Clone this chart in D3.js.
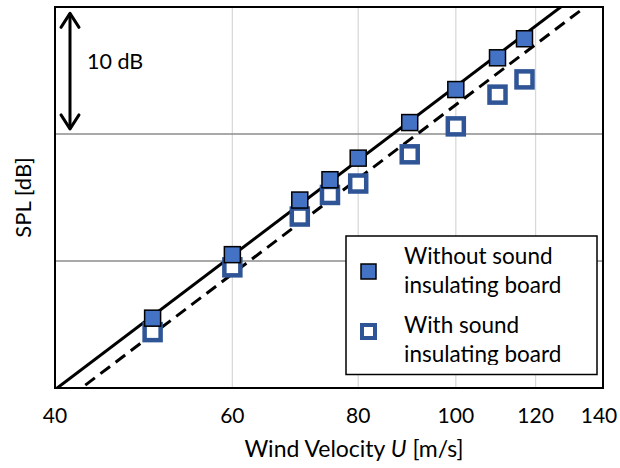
<!DOCTYPE html>
<html>
<head>
<meta charset="utf-8">
<script src="https://cdn.jsdelivr.net/npm/d3@7"></script>
<style>
  body { margin: 0; background: #fff; }
  text { font-family: Lato, "Open Sans", sans-serif; fill: #000; }
</style>
</head>
<body>
<div id="chart"></div>
<script>
// wind velocity [m/s] and relative SPL [dB]
var velocities = [50, 60, 70, 75, 80, 90, 100, 110, 117];
var splWithout = [5.5, 10.5, 14.8, 16.4, 18.1, 20.9, 23.5, 26.0, 27.5];
var splWith = [4.4, 9.5, 13.5, 15.2, 16.1, 18.4, 20.6, 23.1, 24.3];
var xTicks = [40, 60, 80, 100, 120, 140];
var yGrid = [10, 20];
// fitted lines: SPL = slope * log10(U / ref)
var fitWithout = { slope: 60, ref: 40.2 };
var fitWith = { slope: 60, ref: 42.5 };
var legendLabels = [["Without sound", "insulating board"], ["With sound", "insulating board"]];

var width = 620, height = 468;
var margin = { top: 7, left: 55, right: 17, bottom: 80 };

var svg = d3.select("#chart").append("svg")
    .attr("width", width)
    .attr("height", height);

var x = d3.scaleLog()
    .domain([40, 140])
    .range([margin.left, width - margin.right]);

var y = d3.scaleLinear()
    .domain([0, 30])
    .range([height - margin.bottom, margin.top]);

svg.append("defs").append("clipPath")
    .attr("id", "plotClip")
    .append("rect")
    .attr("x", x.range()[0])
    .attr("y", y.range()[1])
    .attr("width", x.range()[1] - x.range()[0])
    .attr("height", y.range()[0] - y.range()[1]);

// vertical grid
svg.append("g").selectAll("line")
    .data(xTicks.slice(1, -1))
    .enter().append("line")
    .attr("x1", d => x(d)).attr("x2", d => x(d))
    .attr("y1", y(0)).attr("y2", y(30))
    .attr("stroke", "#d9d9d9")
    .attr("stroke-width", 1.3);

// horizontal grid
svg.append("g").selectAll("line")
    .data(yGrid)
    .enter().append("line")
    .attr("x1", x(40)).attr("x2", x(140))
    .attr("y1", d => y(d)).attr("y2", d => y(d))
    .attr("stroke", "#8c8c8c")
    .attr("stroke-width", 1.5);

// fit lines
var line = d3.line().x(d => x(d[0])).y(d => y(d[1]));
function fitPoints(f) {
    return x.domain().map(u => [u, f.slope * Math.log10(u / f.ref)]);
}
var lines = svg.append("g").attr("clip-path", "url(#plotClip)");
lines.append("path")
    .attr("d", line(fitPoints(fitWithout)))
    .attr("fill", "none")
    .attr("stroke", "#000")
    .attr("stroke-width", 3);
lines.append("path")
    .attr("d", line(fitPoints(fitWith)))
    .attr("fill", "none")
    .attr("stroke", "#000")
    .attr("stroke-width", 3)
    .attr("stroke-dasharray", "12,7");

// markers
var openSize = 16, fillSize = 16;
svg.append("g").selectAll("rect")
    .data(velocities)
    .enter().append("rect")
    .attr("x", (d, i) => x(d) - openSize / 2)
    .attr("y", (d, i) => y(splWith[i]) - openSize / 2)
    .attr("width", openSize).attr("height", openSize)
    .attr("fill", "#fff")
    .attr("stroke", "#2f5597")
    .attr("stroke-width", 4.5);

svg.append("g").selectAll("rect")
    .data(velocities)
    .enter().append("rect")
    .attr("x", (d, i) => x(d) - fillSize / 2)
    .attr("y", (d, i) => y(splWithout[i]) - fillSize / 2)
    .attr("width", fillSize).attr("height", fillSize)
    .attr("fill", "#4472c4")
    .attr("stroke", "#000")
    .attr("stroke-width", 1.5);

// frame
svg.append("rect")
    .attr("x", x(40)).attr("y", y(30))
    .attr("width", x(140) - x(40))
    .attr("height", y(0) - y(30))
    .attr("fill", "none")
    .attr("stroke", "#000")
    .attr("stroke-width", 2);

// x tick labels (kept inside the picture at the right edge)
svg.append("g").selectAll("text")
    .data(xTicks)
    .enter().append("text")
    .attr("x", d => Math.min(x(d), width - 21))
    .attr("y", 423)
    .attr("text-anchor", "middle")
    .style("font-size", "21px")
    .text(d => d);

// axis titles
var xt = svg.append("text")
    .attr("x", 354)
    .attr("y", 457)
    .attr("text-anchor", "middle")
    .style("font-size", "23px");
xt.append("tspan").text("Wind Velocity ");
xt.append("tspan").style("font-style", "italic").text("U");
xt.append("tspan").text(" [m/s]");

svg.append("text")
    .attr("transform", "translate(31," + y(15) + ") rotate(-90)")
    .attr("text-anchor", "middle")
    .style("font-size", "22px")
    .text("SPL [dB]");

// 10 dB scale arrow
var ax = 70, aTop = y(29.5), aBot = y(20.4);
var arrow = svg.append("g")
    .attr("fill", "none")
    .attr("stroke", "#000")
    .attr("stroke-width", 3)
    .attr("stroke-linecap", "round")
    .attr("stroke-linejoin", "round");
arrow.append("line").attr("x1", ax).attr("x2", ax).attr("y1", aTop + 1).attr("y2", aBot - 1);
arrow.append("path").attr("d", "M" + (ax - 9) + "," + (aTop + 14) + "L" + ax + "," + aTop + "L" + (ax + 9) + "," + (aTop + 14));
arrow.append("path").attr("d", "M" + (ax - 9) + "," + (aBot - 14) + "L" + ax + "," + aBot + "L" + (ax + 9) + "," + (aBot - 14));
svg.append("text")
    .attr("x", 87)
    .attr("y", 69)
    .style("font-size", "21.5px")
    .text("10 dB");

// legend
var lg = svg.append("g").attr("transform", "translate(346,236)");
lg.append("defs").append("clipPath")
    .attr("id", "legClip")
    .append("rect")
    .attr("x", 0).attr("y", 0)
    .attr("width", 251).attr("height", 129);
lg.append("rect")
    .attr("width", 251).attr("height", 138.5)
    .attr("fill", "#fff")
    .attr("stroke", "#000")
    .attr("stroke-width", 1.5);
lg.append("rect")
    .attr("x", 15).attr("y", 28).attr("width", 15).attr("height", 15)
    .attr("fill", "#4472c4").attr("stroke", "#000").attr("stroke-width", 1.5);
lg.append("rect")
    .attr("x", 16).attr("y", 89).attr("width", 13).attr("height", 13)
    .attr("fill", "#fff").attr("stroke", "#2f5597").attr("stroke-width", 4);
var lt = lg.append("g").attr("clip-path", "url(#legClip)");
legendLabels.forEach(function (lab, i) {
    lab.forEach(function (s, j) {
        lt.append("text")
            .attr("x", 58)
            .attr("y", 28 + i * 69 + j * 28.5)
            .style("font-size", "22.5px")
            .text(s);
    });
});
</script>
</body>
</html>
